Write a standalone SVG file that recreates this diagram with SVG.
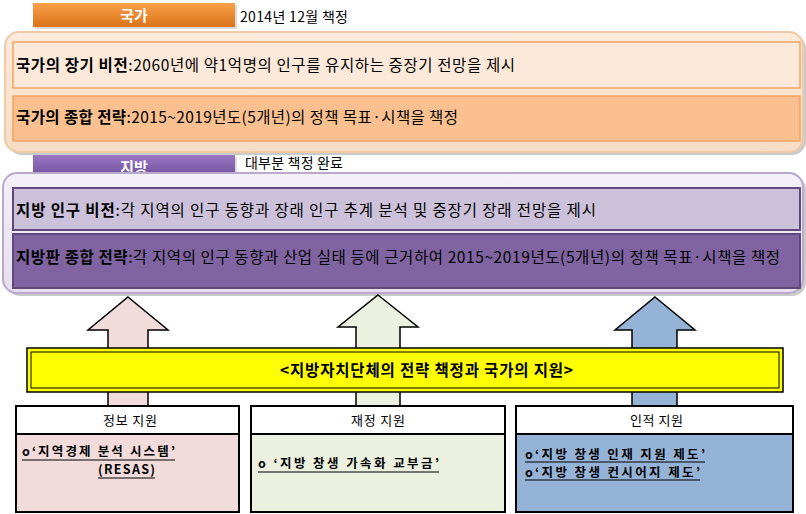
<svg xmlns="http://www.w3.org/2000/svg" width="806" height="514" viewBox="0 0 806 514">
<style>
text{font-family:"Noto Sans CJK KR","Noto Sans",sans-serif;fill:#000}
.b{font-weight:bold}
.main{font-size:15.5px}
.tab{font-size:15px;font-weight:bold;fill:#fff}
.note{font-size:14px}
.hdr{font-size:13px}
.item{font-size:12.5px;font-weight:bold}
.ul{stroke:#000;stroke-width:1.2}
.arrow{stroke:#000;stroke-width:1.5}
.boxh{fill:#fff;stroke:#000;stroke-width:2}
.boxb{stroke:#000;stroke-width:2}
</style>
<defs>
<linearGradient id="gOr" x1="0" y1="0" x2="0" y2="1"><stop offset="0" stop-color="#F9A04A"/><stop offset="1" stop-color="#DB7318"/></linearGradient>
<linearGradient id="gPu" x1="0" y1="0" x2="0" y2="1"><stop offset="0" stop-color="#9A78C4"/><stop offset="1" stop-color="#6B4A9A"/></linearGradient>
<linearGradient id="gPanelO" x1="0" y1="0" x2="0" y2="1"><stop offset="0" stop-color="#FDEBDC"/><stop offset="1" stop-color="#F8DCC4"/></linearGradient>
<linearGradient id="gPanelP" x1="0" y1="0" x2="0" y2="1"><stop offset="0" stop-color="#F4F0F8"/><stop offset="1" stop-color="#E6DEEE"/></linearGradient>
</defs>

<g id="tab-national">
<rect x="35" y="5" width="202" height="24" fill="#999" opacity="0.35"/>
<rect x="33" y="3" width="202" height="24" fill="url(#gOr)"/>
<text class="tab" x="134" y="21" text-anchor="middle">국가</text>
<text class="note" x="240" y="22" textLength="108" lengthAdjust="spacing">2014년 12월 책정</text>
</g>

<g id="panel-national">
<rect x="8" y="35" width="798" height="120" rx="14" fill="#8a8a8a" opacity="0.45"/>
<rect x="5" y="32" width="798" height="120" rx="14" fill="url(#gPanelO)" stroke="#F0C9A6" stroke-width="2"/>
<g id="national-vision">
<rect x="13" y="42" width="787" height="46" fill="#FDE9D9" stroke="#F4A260" stroke-width="1.5"/>
<text class="main" x="16" y="71" textLength="499" lengthAdjust="spacing"><tspan class="b">국가의 장기 비전</tspan>:2060년에 약1억명의 인구를 유지하는 중장기 전망을 제시</text>
</g>
<g id="national-strategy">
<rect x="13" y="96" width="787" height="45" fill="#FAC090" stroke="#F4A260" stroke-width="1.5"/>
<text class="main" x="16" y="123" textLength="442" lengthAdjust="spacing"><tspan class="b">국가의 종합 전략</tspan>:2015~2019년도(5개년)의 정책 목표·시책을 책정</text>
</g>
</g>

<g id="tab-local">
<rect x="35" y="157" width="202" height="24" fill="#999" opacity="0.35"/>
<rect x="33" y="155" width="202" height="24" fill="url(#gPu)"/>
<text class="tab" x="134" y="173" text-anchor="middle">지방</text>
<text class="note" x="245" y="168" textLength="98" lengthAdjust="spacing">대부분 책정 완료</text>
</g>

<g id="panel-local">
<rect x="6" y="176" width="800" height="120" rx="14" fill="#8a8a8a" opacity="0.45"/>
<rect x="3" y="173" width="800" height="120" rx="14" fill="url(#gPanelP)" stroke="#B9A9CD" stroke-width="2"/>
<g id="local-vision">
<rect x="13" y="188" width="787" height="42" fill="#CCC1DA" stroke="#5F497A" stroke-width="2"/>
<text class="main" x="16" y="216" textLength="580" lengthAdjust="spacing"><tspan class="b">지방 인구 비전</tspan>:각 지역의 인구 동향과 장래 인구 추계 분석 및 중장기 장래 전망을 제시</text>
</g>
<g id="local-strategy">
<rect x="13" y="234" width="787" height="54" fill="#8064A2" stroke="#5F497A" stroke-width="2"/>
<text class="main" x="16" y="263" textLength="764" lengthAdjust="spacing"><tspan class="b">지방판 종합 전략</tspan>:각 지역의 인구 동향과 산업 실태 등에 근거하여 2015~2019년도(5개년)의 정책 목표·시책을 책정</text>
</g>
</g>

<g id="connectors">
<path class="arrow" fill="#F2DCDB" d="M128,297 L168,330 L148,330 L148,408 L108,408 L108,330 L88,330 Z"/>
<path class="arrow" fill="#EBF1DE" d="M378,295 L418,327 L400,327 L400,408 L356,408 L356,327 L338,327 Z"/>
<path class="arrow" fill="#95B3D7" d="M655,297 L695,330 L677,330 L677,408 L632,408 L632,330 L615,330 Z"/>
</g>

<g id="banner">
<rect x="27" y="348" width="756" height="44" fill="#FFFF00" stroke="#000" stroke-width="1.5"/>
<rect x="31" y="352" width="748" height="36" fill="none" stroke="#000" stroke-width="1"/>
<text class="b" x="280" y="376" font-size="15.5" textLength="293" lengthAdjust="spacing">&lt;지방자치단체의 전략 책정과 국가의 지원&gt;</text>
</g>

<g id="info-support">
<rect class="boxb" x="16" y="406" width="223" height="106" fill="#F2DCDB"/>
<rect class="boxh" x="16" y="406" width="223" height="28"/>
<text class="hdr" x="103" y="425" textLength="54" lengthAdjust="spacing">정보 지원</text>
<text class="item" x="22" y="456" textLength="153" lengthAdjust="spacing">o‘지역경제 분석 시스템’</text>
<line class="ul" x1="22" y1="460" x2="175" y2="460"/>
<text class="item" x="98" y="474" textLength="57" lengthAdjust="spacing">(RESAS)</text>
<line class="ul" x1="98" y1="478" x2="155" y2="478"/>
</g>

<g id="finance-support">
<rect class="boxb" x="251" y="406" width="254" height="106" fill="#EBF1DE"/>
<rect class="boxh" x="251" y="406" width="254" height="28"/>
<text class="hdr" x="351" y="425" textLength="54" lengthAdjust="spacing">재정 지원</text>
<text class="item" x="258" y="468" textLength="181" lengthAdjust="spacing">o ‘지방 창생 가속화 교부금’</text>
<line class="ul" x1="258" y1="472" x2="439" y2="472"/>
</g>

<g id="human-support">
<rect class="boxb" x="516" y="406" width="277" height="106" fill="#95B3D7"/>
<rect class="boxh" x="516" y="406" width="277" height="28"/>
<text class="hdr" x="630" y="425" textLength="53" lengthAdjust="spacing">인적 지원</text>
<text class="item" font-size="12" x="525" y="459" textLength="180" lengthAdjust="spacing">o‘지방 창생 인재 지원 제도’</text>
<text class="item" font-size="12" x="525" y="477" textLength="175" lengthAdjust="spacing">o‘지방 창생 컨시어지 제도’</text>
<line class="ul" x1="525" y1="462" x2="705" y2="462"/>
<line class="ul" x1="525" y1="480" x2="700" y2="480"/>
</g>
</svg>
